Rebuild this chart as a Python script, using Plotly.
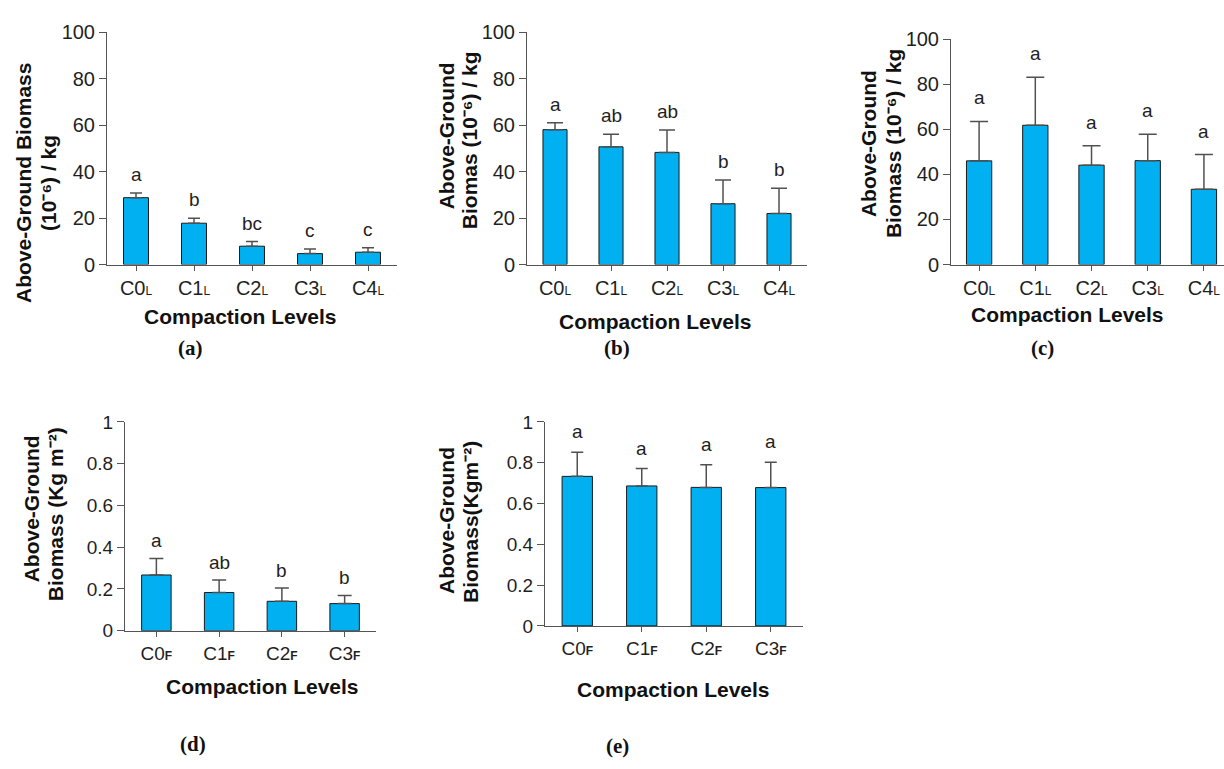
import plotly.graph_objects as go

W, H = 1224, 769

# ---------------- data ----------------
cats_L = ["C0", "C1", "C2", "C3", "C4"]
cats_F = ["C0", "C1", "C2", "C3"]

a_mean = [28.8, 17.8, 7.9, 4.7, 5.3]
a_err = [2.0, 2.1, 2.0, 2.0, 1.9]
a_letters = ["a", "b", "bc", "c", "c"]

b_mean = [58.1, 50.7, 48.3, 26.2, 22.0]
b_err = [3.0, 5.4, 9.6, 10.2, 10.9]
b_letters = ["a", "ab", "ab", "b", "b"]

c_mean = [46.0, 61.8, 44.1, 46.1, 33.4]
c_err = [17.5, 21.3, 8.6, 11.7, 15.4]
c_letters = ["a", "a", "a", "a", "a"]

d_mean = [0.267, 0.183, 0.141, 0.130]
d_err = [0.079, 0.060, 0.064, 0.039]
d_letters = ["a", "ab", "b", "b"]

e_mean = [0.733, 0.686, 0.679, 0.678]
e_err = [0.118, 0.085, 0.111, 0.124]
e_letters = ["a", "a", "a", "a"]

ytitle_a = ["Above-Ground Biomass", "(10⁻⁶) / kg"]
ytitle_b = ["Above-Ground", "Biomas (10⁻⁶) / kg"]
ytitle_c = ["Above-Ground", "Biomass (10⁻⁶) / kg"]
ytitle_d = ["Above-Ground", "Biomass (Kg m⁻²)"]
ytitle_e = ["Above-Ground", "Biomass(Kgm⁻²)"]
xtitle = "Compaction Levels"
captions = ["(a)", "(b)", "(c)", "(d)", "(e)"]

FONT = "Liberation Sans, Arial, sans-serif"
BAR = "#00B0F0"
TXT = "#1f1f1f"
AX = "#555555"


def lab(c, sub, bold=False):
    s = f"<b>{sub}</b>" if bold else sub
    return f"{c}<span style='font-size:12px'>{s}</span>"


def px_x(p):
    return p / W


def px_y(p):
    return 1 - p / H


panels = [
    dict(cats=cats_L, sub="L", mean=a_mean, err=a_err, letters=a_letters, tf=20,
         xd=(107, 397), yd=(22, 261), yr=[0, 100], dt=20, bw=0.43, cap=6, ls=6,
         yt=ytitle_a, ytp=[(24, 177), (49, 177)], xtp=(240, 315), cap_t=captions[0], cap_p=(190, 347),
         xr=[-0.5, 4.5]),
    dict(cats=cats_L, sub="L", mean=b_mean, err=b_err, letters=b_letters, tf=20,
         xd=(527, 807), yd=(22, 261), yr=[0, 100], dt=20, bw=0.43, cap=8, ls=6,
         yt=ytitle_b, ytp=[(446, 129), (469, 133)], xtp=(655, 320), cap_t=captions[1], cap_p=(617, 347),
         xr=[-0.5, 4.5]),
    dict(cats=cats_L, sub="L", mean=c_mean, err=c_err, letters=c_letters, tf=20,
         xd=(951, 1224), yd=(29, 261), yr=[0, 100], dt=20, bw=0.45, cap=9, ls=11,
         yt=ytitle_c, ytp=[(868, 137), (893, 137)], xtp=(1067, 312), cap_t=captions[2], cap_p=(1042, 347),
         xr=[-0.5, 4.357]),
    dict(cats=cats_F, sub="F", mean=d_mean, err=d_err, letters=d_letters, tf=19,
         xd=(125, 376), yd=(423, 638), yr=[0, 1], dt=0.2, bw=0.47, cap=7, ls=5,
         yt=ytitle_d, ytp=[(31, 513), (55, 518)], xtp=(262, 695), cap_t=captions[3], cap_p=(193, 755),
         xr=[-0.5, 3.5]),
    dict(cats=cats_F, sub="F", mean=e_mean, err=e_err, letters=e_letters, tf=19,
         xd=(545, 803), yd=(423, 633), yr=[0, 1], dt=0.2, bw=0.47, cap=6, ls=8,
         yt=ytitle_e, ytp=[(447, 525), (471, 526)], xtp=(673, 698), cap_t=captions[4], cap_p=(617, 757),
         xr=[-0.5, 3.5]),
]

fig = go.Figure()
layout = dict(
    width=W, height=H, margin=dict(l=0, r=0, t=0, b=0),
    paper_bgcolor="white", plot_bgcolor="white", showlegend=False,
    font=dict(family=FONT, color=TXT),
)
annotations = []

for i, p in enumerate(panels, start=1):
    sfx = "" if i == 1 else str(i)
    xa, ya = "x" + sfx, "y" + sfx
    labels = [lab(c, p["sub"], bold=(p["sub"] == "F")) for c in p["cats"]]
    fig.add_trace(go.Bar(
        x=labels, y=p["mean"], xaxis=xa, yaxis=ya, width=p["bw"],
        marker=dict(color=BAR, line=dict(color="#1a1a1a", width=1)),
        error_y=dict(type="data", symmetric=False, array=p["err"],
                     arrayminus=[0] * len(p["err"]), color="#505050",
                     thickness=1.5, width=p["cap"]),
    ))
    layout["xaxis" + sfx] = dict(
        domain=[px_x(p["xd"][0]), px_x(p["xd"][1])], anchor=ya,
        type="category", range=p["xr"], showline=True, linecolor=AX, linewidth=1,
        ticks="outside", ticklen=5, tickcolor=AX, showgrid=False, zeroline=False,
        tickfont=dict(size=p["tf"], family=FONT, color=TXT),
    )
    layout["yaxis" + sfx] = dict(
        domain=[px_y(p["yd"][1]), px_y(p["yd"][0])], anchor=xa,
        range=p["yr"], dtick=p["dt"], showline=True, linecolor=AX, linewidth=1,
        ticks="outside", ticklen=7, tickcolor=AX, showgrid=False, zeroline=False,
        tickfont=dict(size=p["tf"], family=FONT, color=TXT),
    )
    # significance letters
    for lbl, m, e, t in zip(labels, p["mean"], p["err"], p["letters"]):
        annotations.append(dict(
            x=lbl, y=m + e, xref=xa, yref=ya, text=t, showarrow=False,
            yanchor="bottom", yshift=p["ls"], font=dict(size=19, family=FONT, color=TXT),
        ))
    # y title (two rotated lines)
    for line, (lx, ly) in zip(p["yt"], p["ytp"]):
        annotations.append(dict(
            x=px_x(lx), y=px_y(ly), xref="paper", yref="paper",
            text=line, textangle=-90, showarrow=False,
            xanchor="center", yanchor="middle",
            font=dict(size=21, family=FONT, color="#111111", weight="bold"),
        ))
    # x title
    annotations.append(dict(
        x=px_x(p["xtp"][0]), y=px_y(p["xtp"][1]), xref="paper", yref="paper",
        text=xtitle, showarrow=False, xanchor="center", yanchor="middle",
        font=dict(size=21, family=FONT, color="#111111", weight="bold"),
    ))
    # caption
    annotations.append(dict(
        x=px_x(p["cap_p"][0]), y=px_y(p["cap_p"][1]), xref="paper", yref="paper",
        text=p["cap_t"], showarrow=False, xanchor="center", yanchor="middle",
        font=dict(size=21, family="Liberation Serif, serif", color="#111111", weight="bold"),
    ))

layout["annotations"] = annotations
fig.update_layout(**layout)
fig.write_html("out.html")
